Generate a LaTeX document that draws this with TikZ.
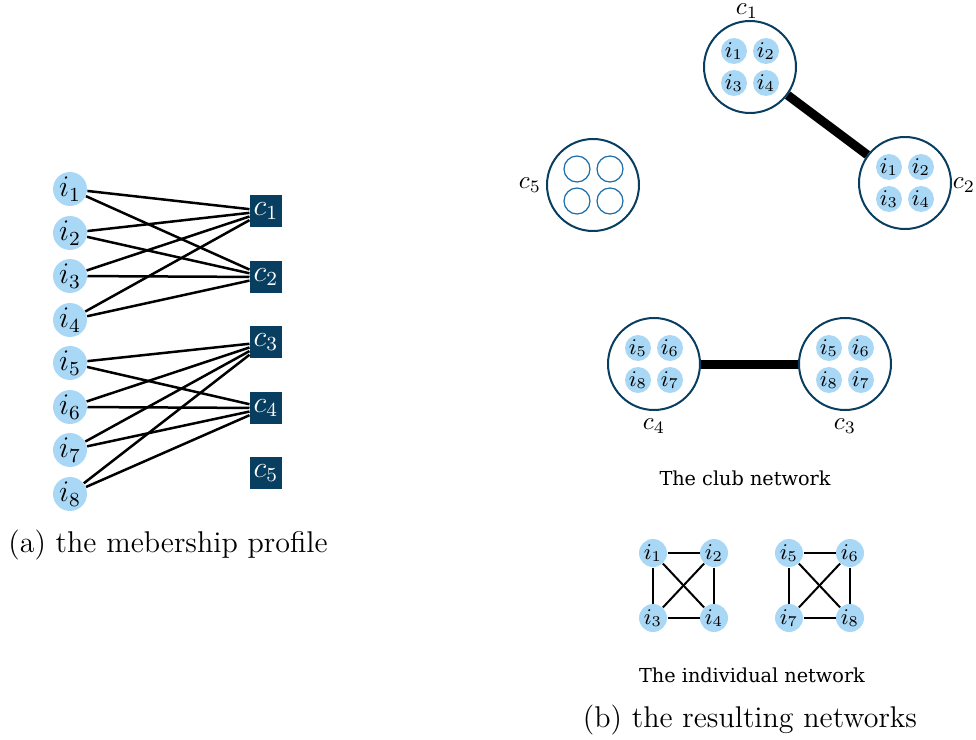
\documentclass[tikz,border=0pt]{standalone}
\usepackage{amsmath}
\usepackage{fontspec}
\newfontfamily\netfont{DejaVu Serif}
\definecolor{memblue}{RGB}{168,216,245}
\definecolor{clubnavy}{RGB}{8,62,96}
\definecolor{ringblue}{RGB}{30,110,170}

\begin{document}
\begin{tikzpicture}[x=0.4pt,y=-0.4pt,
    ind/.style={circle,fill=memblue,inner sep=0pt,minimum size=13.6pt,font=\large},
    club/.style={rectangle,fill=clubnavy,text=white,inner sep=0pt,minimum size=12.8pt,font=\large},
    ring/.style={circle,draw=clubnavy,line width=0.8pt,inner sep=0pt,minimum size=36.8pt},
    mem/.style={circle,fill=memblue,inner sep=0pt,minimum size=10.4pt,font=\small},
    vacant/.style={circle,draw=ringblue,line width=0.5pt,inner sep=0pt,minimum size=10.4pt},
    ringlabel/.style={inner sep=0pt},
    link/.style={line width=1pt},
    clublink/.style={line width=3.6pt},
    indlink/.style={line width=0.8pt},
    caption/.style={font=\netfont\fontsize{7.7}{9}\selectfont}]
    \useasboundingbox (0,0) rectangle (976,740);
    % (a) membership profile
    \foreach \k/\y in {1/189,2/233,3/276,4/320,5/363,6/407,7/450,8/494}
        \node[ind] (i\k) at (70,\y) {$i_{\k}$};
    \foreach \k/\y in {1/211,2/277,3/342,4/408,5/473}
        \node[club] (c\k) at (266,\y) {$c_{\k}$};
    \foreach \a/\b in {1/1,1/2,2/1,2/2,3/1,3/2,4/1,4/2,5/3,5/4,6/3,6/4,7/3,7/4,8/3,8/4}
        \draw[link] (i\a) -- (c\b);
    \node[font=\large] (capa) at (168,545) {(a) the mebership profile};
    % (b) club network
    \foreach \r/\x/\y/\p/\q/\s/\t in {1/750/67/1/2/3/4,2/905/183/1/2/3/4,4/654/364/5/6/8/7,3/845/364/5/6/8/7} {
        \node[ring] (r\r) at (\x,\y) {};
        \node[mem] (r\r a) at (\x-16,\y-16) {$i_{\p}$};
        \node[mem] (r\r b) at (\x+16,\y-16) {$i_{\q}$};
        \node[mem] (r\r c) at (\x-16,\y+16) {$i_{\s}$};
        \node[mem] (r\r d) at (\x+16,\y+16) {$i_{\t}$};
    }
    \node[ring] (r5) at (593,185) {};
    \node[vacant] (r5a) at (577,169) {};
    \node[vacant] (r5b) at (610,169) {};
    \node[vacant] (r5c) at (577,201) {};
    \node[vacant] (r5d) at (610,201) {};
    \node[ringlabel] (l1) at (747,11) {$c_1$};
    \node[ringlabel] (l2) at (964,185) {$c_2$};
    \node[ringlabel] (l5) at (530,185) {$c_5$};
    \node[ringlabel] (l4) at (654,426) {$c_4$};
    \node[ringlabel] (l3) at (845,426) {$c_3$};
    \draw[clublink] (r1) -- (r2);
    \draw[clublink] (r4) -- (r3);
    \node[caption] (clubcap) at (745,478) {The club network};
    % individual network
    \foreach \k/\x/\y in {1/653/553,2/714/553,3/653/618,4/714/618,5/789/553,6/850/553,7/789/618,8/850/618}
        \node[mem,minimum size=11.2pt] (n\k) at (\x,\y) {$i_{\k}$};
    \foreach \a/\b in {1/2,1/3,1/4,2/3,2/4,3/4,5/6,5/7,5/8,6/7,6/8,7/8}
        \draw[indlink] (n\a) -- (n\b);
    \node[caption] (indcap) at (752,675) {The individual network};
    \node[font=\large] (capb) at (750,720) {(b) the resulting networks};
\end{tikzpicture}
\end{document}
